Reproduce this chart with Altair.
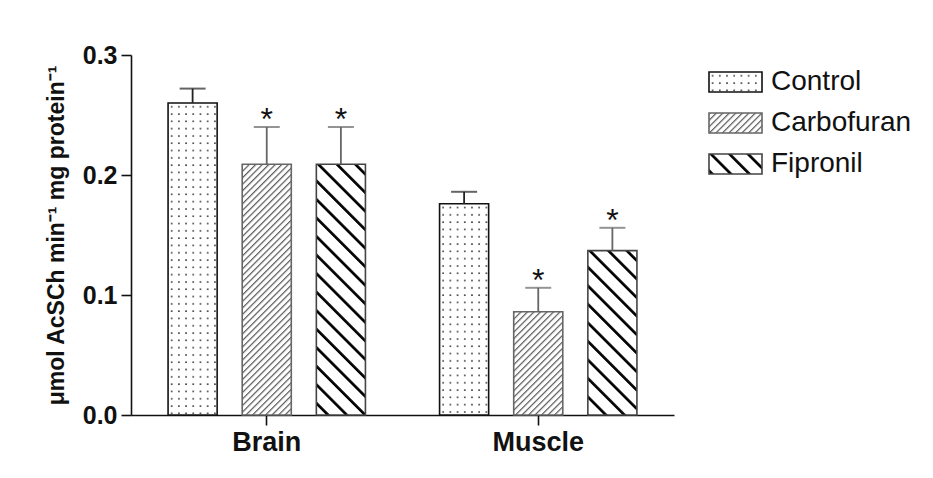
import urllib.parse
import altair as alt
import pandas as pd

# ---- data ----
groups = ["Brain", "Muscle"]
series = ["Control", "Carbofuran", "Fipronil"]
brain_means = [0.260, 0.209, 0.209]
brain_se = [0.012, 0.031, 0.031]
muscle_means = [0.176, 0.086, 0.137]
muscle_se = [0.010, 0.020, 0.019]
brain_sig = ["", "*", "*"]
muscle_sig = ["", "*", "*"]

# ---- pattern fills (SVG images without intrinsic size, drawn 1:1 inside each bar) ----
def svg_url(pattern):
    svg = ("<svg xmlns='http://www.w3.org/2000/svg' width='100%' height='100%'>"
           "<defs>" + pattern + "</defs>"
           "<rect width='100%' height='100%' fill='white'/>"
           "<rect width='100%' height='100%' fill='url(#p)'/></svg>")
    return "data:image/svg+xml;charset=utf-8," + urllib.parse.quote(svg)

patterns = {
    "Control": svg_url("<pattern id='p' width='7.2' height='7.3' patternUnits='userSpaceOnUse'>"
                       "<rect x='2.8' y='3' width='1.6' height='1.6' fill='#3a3a3a'/></pattern>"),
    "Carbofuran": svg_url("<pattern id='p' width='4.6' height='10' patternUnits='userSpaceOnUse' "
                          "patternTransform='rotate(45)'><rect x='0' y='0' width='1.2' height='10' "
                          "fill='#555555'/></pattern>"),
    "Fipronil": svg_url("<pattern id='p' width='13.1' height='20' patternUnits='userSpaceOnUse' "
                        "patternTransform='rotate(-45)'><rect x='0' y='0' width='2.7' height='20' "
                        "fill='#000000'/></pattern>"),
}
stroke_colors = ["#111111", "#666666", "#444444"]
err_colors = ["#222222", "#666666", "#666666"]

rows = []
for g, means, ses, sigs in [("Brain", brain_means, brain_se, brain_sig),
                            ("Muscle", muscle_means, muscle_se, muscle_sig)]:
    for s, m, e, sg in zip(series, means, ses, sigs):
        rows.append({"group": g, "series": s, "value": m, "upper": m + e,
                     "sig": sg, "img": patterns[s]})
df = pd.DataFrame(rows)
legend_df = pd.DataFrame({"series": series, "img": [patterns[s] for s in series]})

FONT = "Liberation Sans"

x_enc = alt.X("group:N", sort=groups,
              scale=alt.Scale(paddingInner=0, paddingOuter=0),
              axis=alt.Axis(title=None, labelAngle=0, labelFontSize=27, labelPadding=4,
                            tickSize=10))
xo_enc = alt.XOffset("series:N", sort=series,
                     scale=alt.Scale(paddingInner=0.338, paddingOuter=0.5))
y_scale = alt.Scale(domain=[0, 0.3], nice=False, zero=True)
stroke_scale = alt.Scale(domain=series, range=stroke_colors)
err_scale = alt.Scale(domain=series, range=err_colors)

base = alt.Chart(df)

fills = base.mark_image(aspect=False).encode(
    x=x_enc, xOffset=xo_enc,
    y=alt.Y("value:Q", scale=y_scale,
            axis=alt.Axis(values=[0, 0.1, 0.2, 0.3], format=".1f",
                          title="μmol AcSCh min⁻¹ mg protein⁻¹",
                          titleFontSize=23, titleFontWeight="bold", titlePadding=14,
                          labelFontSize=25, tickSize=10, labelPadding=4)),
    y2=alt.datum(0),
    url=alt.Url("img:N"),
)
borders = base.mark_bar(fill="white", fillOpacity=0, strokeWidth=1.6).encode(
    x=x_enc, xOffset=xo_enc, y=alt.Y("value:Q", scale=y_scale),
    stroke=alt.Stroke("series:N", scale=stroke_scale, legend=None),
)
err_line = base.mark_rule(strokeWidth=1.8).encode(
    x=x_enc, xOffset=xo_enc, y=alt.Y("value:Q", scale=y_scale), y2="upper:Q",
    color=alt.Color("series:N", scale=err_scale, legend=None),
)
err_cap = base.mark_tick(size=26, thickness=2).encode(
    x=x_enc, xOffset=xo_enc, y=alt.Y("upper:Q", scale=y_scale),
    color=alt.Color("series:N", scale=err_scale, legend=None),
)
stars = base.mark_text(fontSize=32, font=FONT, baseline="alphabetic", dy=3,
                       color="#111111").encode(
    x=x_enc, xOffset=xo_enc, y=alt.Y("upper:Q", scale=y_scale),
    text="sig:N",
)

main = alt.layer(fills, borders, err_line, err_cap, stars).properties(width=543, height=360)

ly = alt.Y("series:N", sort=series, axis=None,
           scale=alt.Scale(paddingInner=0.512, paddingOuter=0.415))
leg_base = alt.Chart(legend_df)
leg_img = leg_base.mark_image(aspect=False).encode(
    x=alt.value(0), x2=alt.value(53), y=ly, url=alt.Url("img:N"))
leg_box = leg_base.mark_rect(fill="white", fillOpacity=0, strokeWidth=1.6).encode(
    x=alt.value(0), x2=alt.value(53), y=ly,
    stroke=alt.Stroke("series:N", scale=stroke_scale, legend=None))
leg_text = leg_base.mark_text(align="left", baseline="middle", fontSize=28, font=FONT,
                              color="#111111", dx=0).encode(
    x=alt.value(62), y=ly, text="series:N")
legend = alt.layer(leg_img, leg_box, leg_text).properties(width=210, height=136)

chart = alt.hconcat(main, legend, spacing=34).configure(
    background="white",
    padding={"left": 37, "top": 35, "right": 5, "bottom": 5},
).configure_view(
    stroke=None
).configure_axis(
    domainColor="#111111", domainWidth=1.6, tickColor="#111111", tickWidth=1.6,
    labelFont=FONT, labelFontWeight="bold", labelColor="#111111",
    titleFont=FONT, titleColor="#111111", grid=False,
)

chart.save("out.html", embed_options={"renderer": "svg", "actions": False})
